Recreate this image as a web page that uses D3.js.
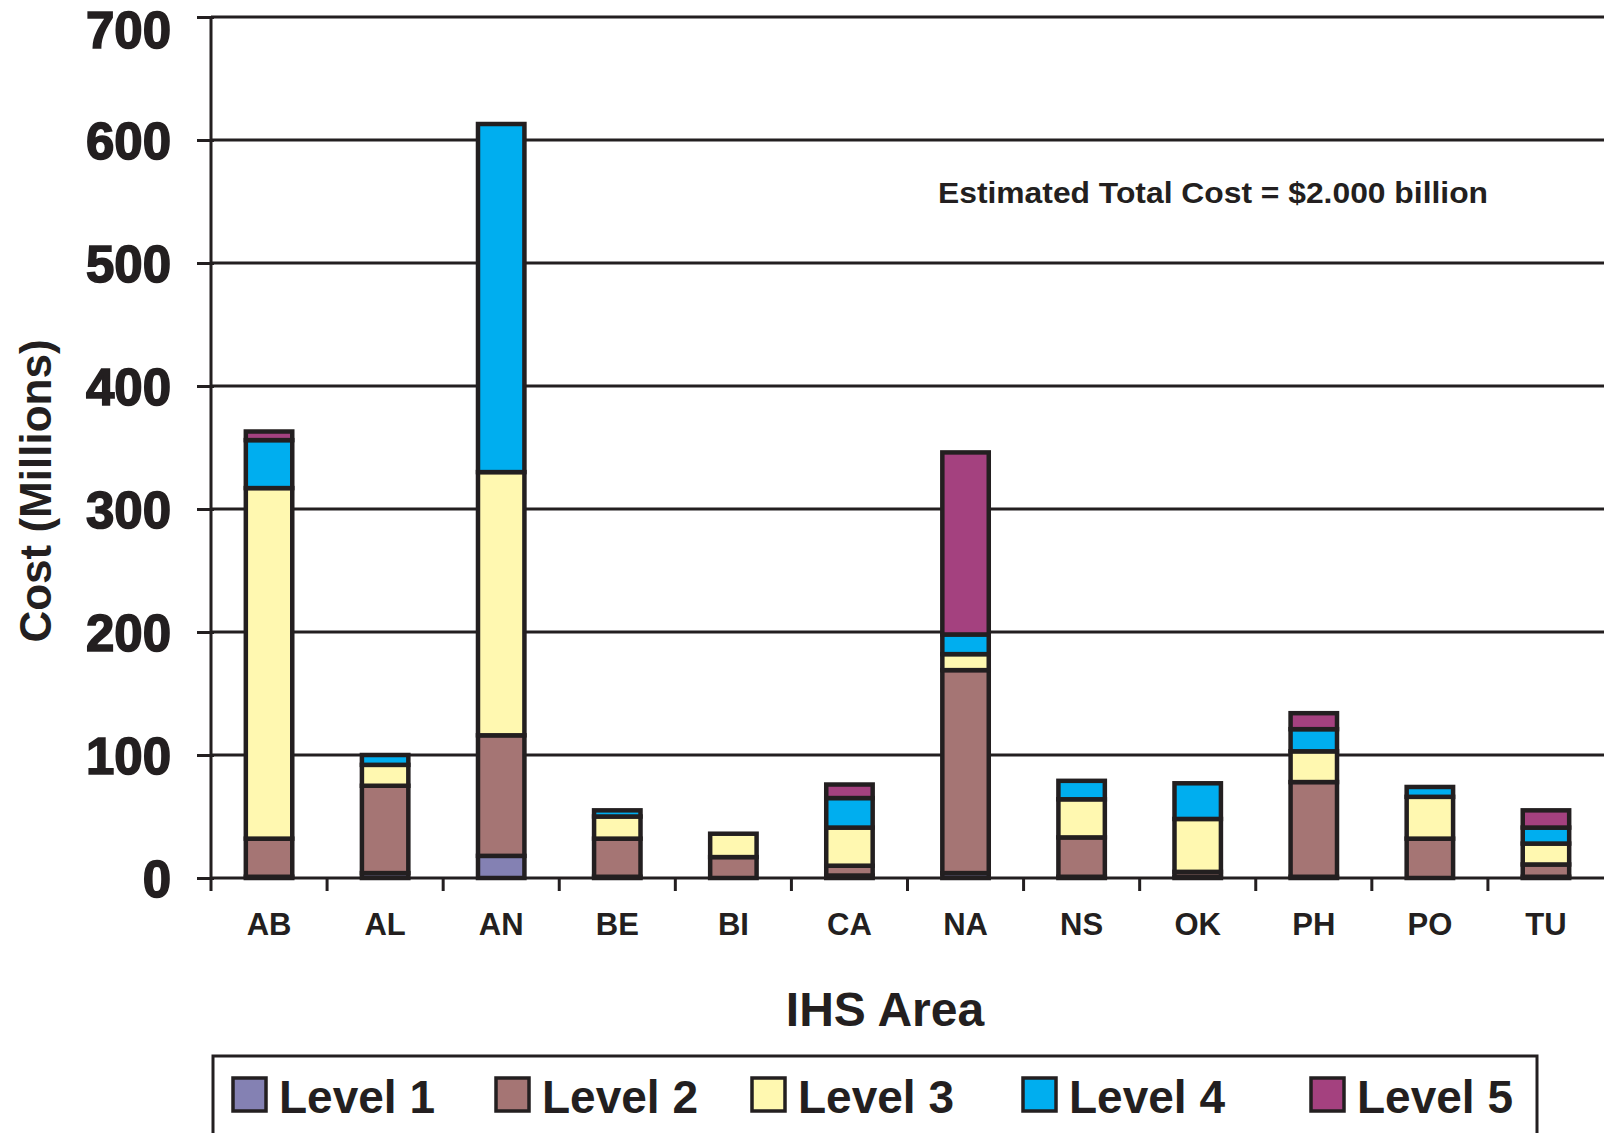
<!DOCTYPE html>
<html>
<head>
<meta charset="utf-8">
<script src="https://cdn.jsdelivr.net/npm/d3@7"></script>
<style>
  body { margin: 0; background: #fff; }
  svg { display: block; }
  text { font-family: "Liberation Sans", Arial, sans-serif; font-weight: bold; fill: #231f20; }
</style>
</head>
<body>
<svg id="chart" width="1604" height="1133"></svg>
<script>
// IHS areas along the x axis
let areas = ["AB", "AL", "AN", "BE", "BI", "CA", "NA", "NS", "OK", "PH", "PO", "TU"];

// cost per level, millions
let level1 = [1, 4, 18, 1, 0, 2, 4, 1, 1, 1, 0, 1];
let level2 = [31, 71, 98, 31, 17, 8, 165, 32, 4, 77, 32, 10];
let level3 = [285, 17, 214, 18, 19, 31, 13, 31, 43, 25, 34, 17];
let level4 = [39, 8, 283, 5, 0, 24, 16, 15, 29, 18, 8, 13];
let level5 = [7, 0, 0, 0, 0, 11, 148, 0, 0, 13, 0, 14];

let levelNames = ["Level 1", "Level 2", "Level 3", "Level 4", "Level 5"];
let levelColors = ["#8481b3", "#a57574", "#fff8b0", "#00aeef", "#a4417f"];
let yTicks = [0, 100, 200, 300, 400, 500, 600, 700];

let ink = "#231f20";

let svg = d3.select("#chart");

let margin = { top: 17, right: 0, bottom: 255, left: 211 },
    width = 1604 - margin.left - margin.right,
    height = 1133 - margin.top - margin.bottom;

let g = svg.append("g")
    .attr("transform", "translate(" + margin.left + "," + margin.top + ")");

// rows for d3.stack
let rows = areas.map(function(a, i) {
    return { area: a, l1: level1[i], l2: level2[i], l3: level3[i], l4: level4[i], l5: level5[i] };
});
let keys = ["l1", "l2", "l3", "l4", "l5"];
let series = d3.stack().keys(keys)(rows);

let x = d3.scaleBand()
    .domain(areas)
    .range([0, width])
    .paddingInner(0.6)
    .paddingOuter(0.3);

let y = d3.scaleLinear()
    .domain([0, 700])
    .range([height, 0]);

// gridlines
g.append("g")
    .selectAll("line")
    .data(yTicks.filter(function(d) { return d > 0; }))
    .enter().append("line")
    .attr("x1", 0)
    .attr("x2", width)
    .attr("y1", function(d) { return y(d); })
    .attr("y2", function(d) { return y(d); })
    .attr("stroke", ink)
    .attr("stroke-width", 3);

// y axis
let yAxis = g.append("g")
    .call(d3.axisLeft(y).tickValues(yTicks).tickSize(14).tickPadding(26));
yAxis.select(".domain").attr("stroke", ink).attr("stroke-width", 3).attr("d", "M0," + (height + 1) + "V0");
yAxis.selectAll(".tick line").attr("stroke", ink).attr("stroke-width", 3).attr("x2", -14).attr("x1", 3);
yAxis.selectAll(".tick text")
    .attr("font-size", 51)
    .attr("font-family", "'Liberation Sans', Arial, sans-serif")
    .attr("font-weight", "bold")
    .attr("fill", ink)
    .attr("stroke", ink)
    .attr("stroke-width", 1.6)
    .attr("dy", function(d) { return d === 700 ? "0.6em" : "0.36em"; });

// x axis: ticks between bands
let xAxis = g.append("g").attr("transform", "translate(0," + height + ")");
xAxis.append("line")
    .attr("x1", 0).attr("x2", width)
    .attr("stroke", ink).attr("stroke-width", 3);
xAxis.selectAll(".xtick")
    .data(d3.range(areas.length))
    .enter().append("line")
    .attr("class", "xtick")
    .attr("x1", function(i) { return i * x.step(); })
    .attr("x2", function(i) { return i * x.step(); })
    .attr("y1", 0).attr("y2", 13)
    .attr("stroke", ink).attr("stroke-width", 3);
xAxis.selectAll(".xlabel")
    .data(areas)
    .enter().append("text")
    .attr("class", "xlabel")
    .attr("x", function(d) { return x(d) + x.bandwidth() / 2; })
    .attr("y", 57)
    .attr("text-anchor", "middle")
    .attr("font-size", 31)
    .text(function(d) { return d; });

// stacked bars
g.append("g")
    .selectAll("g")
    .data(series)
    .enter().append("g")
    .attr("fill", function(d, i) { return levelColors[i]; })
    .selectAll("rect")
    .data(function(d) { return d.filter(function(s) { return s[1] - s[0] > 0; }); })
    .enter().append("rect")
    .attr("x", function(d) { return x(d.data.area); })
    .attr("y", function(d) { return y(d[1]); })
    .attr("width", x.bandwidth())
    .attr("height", function(d) { return y(d[0]) - y(d[1]); })
    .attr("stroke", ink)
    .attr("stroke-width", 4.5);

// annotation
g.append("text")
    .attr("x", 727)
    .attr("y", 186)
    .attr("font-size", 30)
    .attr("textLength", 550)
    .attr("lengthAdjust", "spacingAndGlyphs")
    .text("Estimated Total Cost = $2.000 billion");

// axis titles
svg.append("text")
    .attr("transform", "translate(51,491) rotate(-90)")
    .attr("text-anchor", "middle")
    .attr("font-size", 44)
    .text("Cost (Millions)");

svg.append("text")
    .attr("x", 885)
    .attr("y", 1026)
    .attr("text-anchor", "middle")
    .attr("font-size", 48)
    .text("IHS Area");

// legend
let legend = svg.append("g");
legend.append("rect")
    .attr("x", 213).attr("y", 1056)
    .attr("width", 1324).attr("height", 120)
    .attr("fill", "none")
    .attr("stroke", ink).attr("stroke-width", 3);

let legendX = [233, 496, 752, 1023, 1311];
let item = legend.selectAll(".item")
    .data(levelNames)
    .enter().append("g")
    .attr("class", "item")
    .attr("transform", function(d, i) { return "translate(" + legendX[i] + ",1078)"; });
item.append("rect")
    .attr("width", 33).attr("height", 33)
    .attr("fill", function(d, i) { return levelColors[i]; })
    .attr("stroke", ink).attr("stroke-width", 3.5);
item.append("text")
    .attr("x", 46)
    .attr("y", 35)
    .attr("font-size", 46)
    .text(function(d) { return d; });
</script>
</body>
</html>
